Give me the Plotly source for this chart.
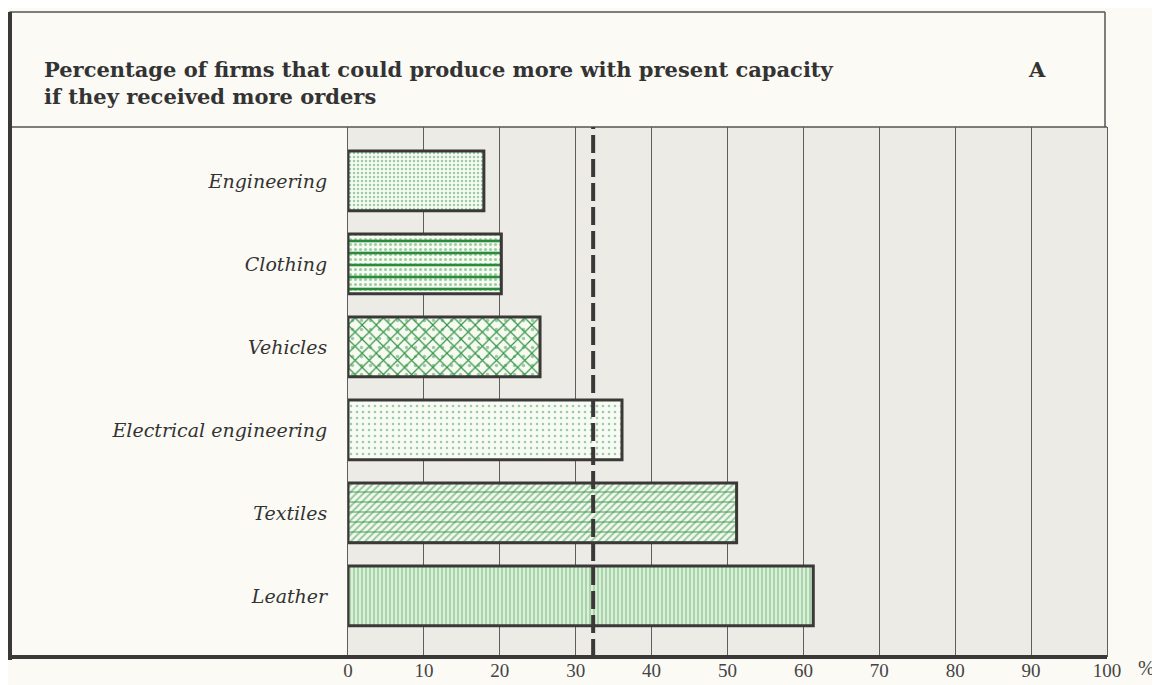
import plotly.graph_objects as go

categories = ["Engineering", "Clothing", "Vehicles", "Electrical engineering", "Textiles", "Leather"]
values = [17.9, 20.2, 25.3, 36.1, 51.2, 61.3]
average = 32.3
x_ticks = [0, 10, 20, 30, 40, 50, 60, 70, 80, 90, 100]
title_lines = ["Percentage of firms that could produce more with present capacity",
               "if they received more orders"]
panel_letter = "A"

GREEN = "#3f9d55"
DARK = "#3b3838"
PAPER = "#fbfaf4"

# pattern layers for each bar (bottom layer first)
layers = {
    "Engineering": [dict(shape=".", bg="#f6faf1", fg=GREEN, size=4, solidity=0.3)],
    "Clothing": [dict(shape=".", bg="#f6faf1", fg=GREEN, size=5, solidity=0.3),
                 dict(shape="-", fg="#2c8a3d", size=12, solidity=0.22)],
    "Vehicles": [dict(shape=".", bg="#f6faf1", fg=GREEN, size=9, solidity=0.12),
                 dict(shape="x", fg="#359447", size=10, solidity=0.22)],
    "Electrical engineering": [dict(shape=".", bg="#f8fbf4", fg=GREEN, size=6, solidity=0.15)],
    "Textiles": [dict(shape="/", bg="#f4f9ef", fg="#359447", size=5, solidity=0.4),
                 dict(shape="-", fg=GREEN, size=10, solidity=0.1)],
    "Leather": [dict(shape="|", bg="#dcefd9", fg="#58ac68", size=4, solidity=0.4)],
}

fig = go.Figure()
for cat, val in zip(categories, values):
    ls = layers[cat]
    for i, l in enumerate(ls):
        top = i == len(ls) - 1
        if i == 0:
            marker = dict(color=l["bg"],
                          pattern=dict(shape=l["shape"], fgcolor=l["fg"], size=l["size"],
                                       solidity=l["solidity"], fillmode="overlay"))
        else:
            marker = dict(color=l["fg"],
                          pattern=dict(shape=l["shape"], fgcolor=l["fg"], size=l["size"],
                                       solidity=l["solidity"], fillmode="replace"))
        marker["line"] = dict(color=DARK, width=3 if top else 0)
        fig.add_trace(go.Bar(x=[val], y=[cat], orientation="h", width=0.72,
                             marker=marker, showlegend=False, hoverinfo="skip"))

# page body has an 8px margin, so the figure is drawn 8px smaller
OFF = 8
L, R, T, B = 348, 1107, 127, 657


def px_x(p):
    return (p - L) / (R - L)


def px_y(p):
    return (B - p) / (B - T)


shapes = [
    dict(type="line", xref="paper", yref="paper", x0=px_x(9.5), x1=px_x(1105), y0=px_y(12), y1=px_y(12),
         line=dict(color="#555", width=1.5)),
    dict(type="line", xref="paper", yref="paper", x0=px_x(1105), x1=px_x(1105), y0=px_y(12), y1=px_y(127),
         line=dict(color="#555", width=1.5)),
    dict(type="line", xref="paper", yref="paper", x0=px_x(9.5), x1=1, y0=1, y1=1,
         line=dict(color="#555", width=1.5)),
    dict(type="line", xref="paper", yref="paper", x0=px_x(10), x1=px_x(10), y0=px_y(12), y1=px_y(660),
         line=dict(color=DARK, width=4)),
    dict(type="line", xref="paper", yref="paper", x0=px_x(9.5), x1=1, y0=0, y1=0,
         line=dict(color=DARK, width=4)),
    dict(type="line", xref="x", yref="paper", x0=average, x1=average, y0=0, y1=1,
         line=dict(color=DARK, width=4, dash="18px,6px"), layer="above"),
]

title_font = dict(family="DejaVu Serif", size=21, color="#333", weight="bold")
annotations = [
    dict(xref="paper", yref="paper", x=px_x(42), y=px_y(83), xanchor="left", yanchor="middle",
         text="<br>".join(title_lines), showarrow=False, align="left", font=title_font),
    dict(xref="paper", yref="paper", x=px_x(1037), y=px_y(70), xanchor="center", yanchor="middle",
         text=panel_letter, showarrow=False, font=title_font),
    dict(xref="paper", yref="paper", x=px_x(1146), y=px_y(668), xanchor="center", yanchor="middle",
         text="%", showarrow=False,
         font=dict(family="Liberation Serif", size=20, color="#444")),
]

fig.update_layout(
    width=1160 - OFF, height=685 - OFF,
    margin=dict(l=L - OFF, r=1160 - R, t=T - OFF, b=685 - B, autoexpand=False),
    paper_bgcolor=PAPER, plot_bgcolor="#ecebe6",
    barmode="overlay",
    shapes=shapes, annotations=annotations,
    xaxis=dict(range=[0, 100], tickvals=x_ticks, showgrid=True, gridcolor="#5e5e5e", gridwidth=1,
               zeroline=False, showline=False, ticks="", ticklabelstandoff=0, automargin=False,
               tickfont=dict(family="Liberation Serif", size=19, color="#444")),
    yaxis=dict(categoryorder="array", categoryarray=categories, range=[5.735, -0.65],
               showgrid=False, zeroline=False, showline=True, mirror=True, linecolor="#5e5e5e",
               linewidth=1, ticks="", ticklabelstandoff=16, automargin=False,
               tickfont=dict(family="DejaVu Serif", size=19, color="#333", style="italic")),
)

fig.write_html("out.html")
